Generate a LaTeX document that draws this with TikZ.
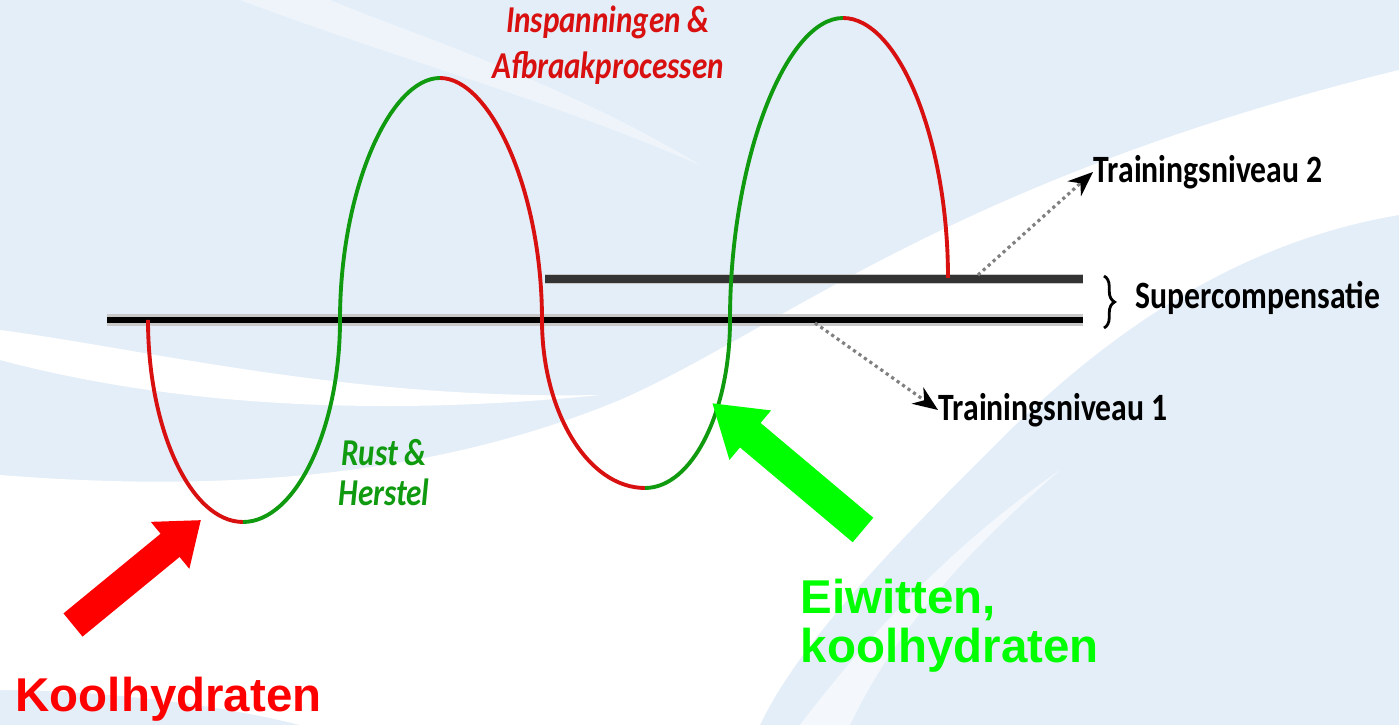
\documentclass[tikz,border=0pt]{standalone}
\usepackage{fontspec}
\setmainfont{Liberation Sans}
\newfontfamily\labelfont[FakeStretch=0.82]{Carlito}
\usetikzlibrary{arrows.meta, positioning, decorations.pathreplacing}
\definecolor{bgblue}{HTML}{E4EEF8}
\definecolor{loadred}{HTML}{D81010}
\definecolor{restgreen}{HTML}{109A10}
\definecolor{tagred}{HTML}{FF0000}
\definecolor{taggreen}{HTML}{00FF00}
\definecolor{levelgrey}{HTML}{333333}
\definecolor{edgegrey}{HTML}{C8C8C8}

\begin{document}
\begin{tikzpicture}[
    x=0.1mm, y=-0.1mm,
    every node/.style={inner sep=0pt},
    wave/.style={line width=1.1pt},
    down/.style={wave, draw=loadred},
    up/.style={wave, draw=restgreen},
    note/.style={font=\labelfont\bfseries\fontsize{11}{13}\selectfont, anchor=west},
    phase/.style={font=\labelfont\bfseries\itshape\fontsize{10.8}{13}\selectfont, align=center},
    pointer/.style={densely dotted, draw=gray, line width=0.9pt, -{Stealth[length=2.5mm, width=2mm, black]}},
    food/.style={font=\bfseries\fontsize{13.5}{14.2}\selectfont, align=left},
    bigarrow/.style={line width=3mm, -{Triangle[length=4mm, width=5.8mm]}}
]

% BACKGROUND
\fill[bgblue] (0,0) rectangle (1399,725);
\useasboundingbox (0,0) rectangle (1399,725);
\fill[white] (0,475) .. controls (250,495) and (450,470) .. (620,400)
    .. controls (780,330) and (950,180) .. (1399,70) -- (1399,215)
    .. controls (1250,240) and (1120,320) .. (1000,440)
    .. controls (900,540) and (800,640) .. (760,725) -- (300,725)
    .. controls (200,700) and (80,690) .. (0,690) -- cycle;
\fill[white] (0,330) .. controls (150,350) and (350,400) .. (600,395)
    .. controls (350,420) and (150,400) .. (0,360) -- cycle;
\fill[white, opacity=0.6] (1060,470) .. controls (980,540) and (900,620) .. (850,725)
    -- (800,725) .. controls (880,620) and (960,540) .. (1060,470);
\fill[white, opacity=0.4] (240,0) .. controls (400,60) and (550,100) .. (700,165)
    .. controls (560,80) and (400,30) .. (330,0) -- cycle;

% LEVELS
\coordinate (base-l) at (107,320);
\coordinate (base-r) at (1083,320);
\coordinate (top-l) at (545,279);
\coordinate (top-r) at (1083,279);
\draw[edgegrey, line width=3.2pt] (base-l) -- (base-r);
\draw[black, line width=1.7pt] (base-l) -- (base-r);
\draw[edgegrey, line width=2.8pt] (top-l) -- (top-r);
\draw[levelgrey, line width=2pt] (top-l) -- (top-r);

% WAVE
\coordinate (w0) at (148,320);
\coordinate (w1) at (243,522);
\coordinate (w2) at (340,320);
\coordinate (w3) at (440,78);
\coordinate (w4) at (542,320);
\coordinate (w5) at (645,488);
\coordinate (w6) at (730,320);
\coordinate (w7) at (843,18);
\coordinate (w8) at (948,278);
\draw[down] (w0) .. controls +(0,110) and +(-52,0) .. (w1);
\draw[up] (w1) .. controls +(52,0) and +(0,110) .. (w2)
    .. controls +(0,-130) and +(-50,0) .. (w3);
\draw[down] (w3) .. controls +(50,0) and +(0,-130) .. (w4)
    .. controls +(0,92) and +(-57,0) .. (w5);
\draw[up] (w5) .. controls +(47,0) and +(0,92) .. (w6)
    .. controls +(0,-160) and +(-57,0) .. (w7);
\draw[down] (w7) .. controls +(55,0) and +(0,-140) .. (w8);

% LABELS
\node[phase, text=loadred] (load) at (608,45) {Inspanningen \&\\Afbraakprocessen};
\node[phase, text=restgreen, font=\labelfont\bfseries\itshape\fontsize{10.8}{11.4}\selectfont] (rest) at (384,473) {Rust \&\\Herstel};
\node[note] (lvl2) at (1093,172) {Trainingsniveau 2};
\node[note] (super) at (1135,298) {Supercompensatie};
\node[note] (lvl1) at (938,410) {Trainingsniveau 1};
\node[food, text=tagred, anchor=base west] (carbs) at (15,712) {Koolhydraten};
\node[food, text=taggreen, anchor=north west] (protein) at (800,578) {Eiwitten,\\koolhydraten};

% POINTERS
\coordinate (lvl2-from) at (978,275);
\coordinate (lvl1-from) at (815,323);
\draw[pointer] (lvl2-from) -- (lvl2.west);
\draw[pointer] (lvl1-from) -- (lvl1.west);
\coordinate (brace-t) at (1104,276);
\coordinate (brace-b) at (1104,328);
\draw[decorate, decoration={brace, amplitude=3pt}, line width=0.8pt] (brace-t) -- (brace-b);

% ARROWS
\coordinate (carbs-tail) at (73,625);
\coordinate (carbs-tip) at (201,520);
\coordinate (protein-tail) at (863,530);
\coordinate (protein-tip) at (712,403);
\draw[bigarrow, tagred] (carbs-tail) -- (carbs-tip);
\draw[bigarrow, taggreen, line width=3.2mm, -{Triangle[length=5mm, width=6.1mm]}] (protein-tail) -- (protein-tip);

\end{tikzpicture}
\end{document}
